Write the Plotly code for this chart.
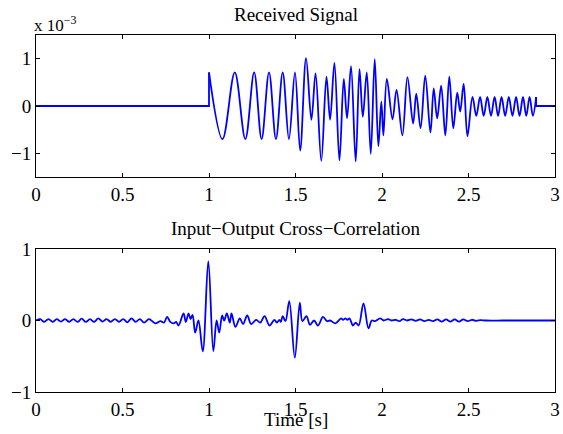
import plotly.graph_objects as go

# ---------------- data ----------------
# Received signal (units of 1e-3): flat part, oscillating part (extrema), tail
recv_flat_t = [0.0, 1.0, 1.0]
recv_flat_v = [0.0, 0.0, 0.71]

recv_t = [1.000, 1.078, 1.149, 1.210, 1.261, 1.304, 1.347, 1.387, 1.426, 1.462,
          1.497, 1.527, 1.561, 1.592, 1.616, 1.649, 1.679, 1.700, 1.725, 1.754,
          1.779, 1.798, 1.821, 1.848, 1.870, 1.889, 1.912, 1.935, 1.958, 1.979,
          1.996, 2.008, 2.028, 2.061, 2.084, 2.118, 2.147, 2.180, 2.198, 2.223,
          2.250, 2.280, 2.299, 2.319, 2.342, 2.366, 2.389, 2.412, 2.435, 2.452,
          2.472, 2.494, 2.523, 2.545, 2.567, 2.588, 2.609, 2.630, 2.651, 2.671,
          2.691, 2.712, 2.733, 2.754, 2.775, 2.795, 2.815, 2.834, 2.853, 2.872,
          2.891]
recv_v = [0.71, -0.70, 0.71, -0.70, 0.71, -0.70, 0.71, -0.70, 0.71, -0.70,
          0.71, -0.94, 1.01, -0.29, 0.69, -1.16, 0.62, -0.29, 0.91, -1.15,
          0.57, -0.26, 0.84, -1.17, 0.78, -0.23, 0.71, -1.01, 0.99, -0.85,
          0.09, -0.62, 0.57, -0.28, 0.34, -0.62, 0.61, -0.37, 0.26, -0.47,
          0.64, -0.56, 0.37, -0.26, 0.43, -0.62, 0.62, -0.47, 0.28, -0.12,
          0.47, -0.64, 0.19, -0.21, 0.19, -0.21, 0.19, -0.21, 0.19, -0.21,
          0.19, -0.21, 0.19, -0.21, 0.19, -0.21, 0.19, -0.21, 0.19, -0.21,
          0.19]

recv_tail_t = [2.891, 2.891, 3.0]
recv_tail_v = [0.19, 0.0, 0.0]

# Input-output cross-correlation
xc_t = [0.000, 0.024, 0.048, 0.072, 0.096, 0.120, 0.144, 0.168, 0.192, 0.216,
        0.240, 0.264, 0.288, 0.312, 0.336, 0.360, 0.384, 0.408, 0.432, 0.456,
        0.480, 0.504, 0.528, 0.552, 0.576, 0.600, 0.624, 0.653, 0.672, 0.691,
        0.720, 0.740, 0.758, 0.776, 0.796, 0.810, 0.824, 0.853, 0.866, 0.882,
        0.893, 0.905, 0.920, 0.939, 0.964, 0.996, 1.025, 1.044, 1.059, 1.076,
        1.088, 1.103, 1.120, 1.130, 1.153, 1.178, 1.197, 1.221, 1.244, 1.273,
        1.296, 1.321, 1.350, 1.378, 1.392, 1.407, 1.415, 1.426, 1.442, 1.464,
        1.496, 1.525, 1.540, 1.563, 1.584, 1.607, 1.630, 1.659, 1.682, 1.700,
        1.731, 1.763, 1.775, 1.788, 1.800, 1.812, 1.832, 1.848, 1.865, 1.893,
        1.922, 1.941, 1.960, 1.989, 2.010, 2.035, 2.055, 2.080, 2.100, 2.122,
        2.145, 2.170, 2.195, 2.220, 2.245, 2.270, 2.295, 2.320, 2.345, 2.370,
        2.395, 2.420, 2.445, 2.470, 2.495, 2.520, 2.545, 2.570, 2.600, 2.700,
        2.800, 3.000]
xc_v = [0.00, 0.02, -0.02, 0.02, -0.02, 0.02, -0.015, 0.02, -0.02, 0.02,
        -0.02, 0.025, -0.02, 0.02, -0.02, 0.03, -0.015, 0.02, -0.02, 0.02,
        -0.02, 0.02, -0.025, 0.03, -0.02, 0.02, -0.03, 0.02, -0.01, -0.04,
        -0.01, -0.03, 0.05, -0.02, -0.04, -0.02, -0.07, 0.10, -0.02, 0.10,
        0.02, 0.08, -0.17, 0.00, -0.43, 0.83, -0.43, 0.00, -0.17, 0.07,
        0.00, 0.10, -0.03, 0.10, -0.09, 0.03, -0.05, 0.07, -0.05, 0.01,
        -0.03, 0.06, -0.07, 0.01, -0.03, 0.01, -0.02, 0.06, -0.01, 0.27,
        -0.52, 0.25, -0.01, 0.06, -0.06, 0.00, -0.07, 0.05, -0.01, 0.00,
        -0.04, 0.03, 0.01, 0.03, 0.01, 0.03, -0.07, -0.03, -0.07, 0.24,
        -0.11, 0.00, -0.01, 0.03, 0.00, 0.02, 0.00, 0.01, -0.01, 0.02,
        0.00, 0.015, -0.005, 0.015, -0.01, 0.01, -0.01, 0.015, -0.015, 0.015,
        -0.015, 0.015, -0.015, 0.015, -0.01, 0.01, -0.005, 0.005, 0.00, 0.00,
        0.00, 0.00]

x_ticks = [0, 0.5, 1, 1.5, 2, 2.5, 3]
x_ticktext = ["0", "0.5", "1", "1.5", "2", "2.5", "3"]
y_ticks = [-1, 0, 1]

title_top = "Received Signal"
title_bottom = "Input\u2212Output Cross\u2212Correlation"
xlabel = "Time [s]"

# ---------------- figure ----------------
BLUE = "#0000ff"
FONT = "Times New Roman, Liberation Serif, serif"
lw = 1.8
FS = 19

fig = go.Figure()
for tx, vy, shape in [(recv_flat_t, recv_flat_v, "linear"),
                      (recv_t, recv_v, "spline"),
                      (recv_tail_t, recv_tail_v, "linear")]:
    fig.add_trace(go.Scatter(x=tx, y=vy, mode="lines", xaxis="x", yaxis="y",
                             line=dict(color=BLUE, width=lw, shape=shape),
                             showlegend=False, hoverinfo="skip"))
fig.add_trace(go.Scatter(x=xc_t, y=xc_v, mode="lines", xaxis="x2", yaxis="y2",
                         line=dict(color=BLUE, width=lw, shape="spline"),
                         showlegend=False, hoverinfo="skip"))

axis_common = dict(showline=True, linecolor="black", linewidth=1, mirror="ticks",
                   ticks="inside", ticklen=4, tickcolor="black", showgrid=False,
                   zeroline=False, ticklabeloverflow="allow",
                   tickfont=dict(family=FONT, size=FS, color="black"))

fig.update_layout(
    width=563, height=434,
    margin=dict(l=36, r=3, t=35, b=42),
    plot_bgcolor="white", paper_bgcolor="white",
    font=dict(family=FONT, size=FS, color="black"),
    xaxis=dict(domain=[0, 1], range=[0, 3], anchor="y", tickvals=x_ticks,
               ticktext=x_ticktext, **axis_common),
    yaxis=dict(domain=[0.6022, 1.0], range=[-1.5, 1.5], anchor="x",
               tickvals=y_ticks, **axis_common),
    xaxis2=dict(domain=[0, 1], range=[0, 3], anchor="y2", tickvals=x_ticks,
                ticktext=x_ticktext, **axis_common),
    yaxis2=dict(domain=[0, 0.4006], range=[-1, 1], anchor="x2",
                tickvals=y_ticks, **axis_common),
    annotations=[
        dict(text=title_top, x=0.5, y=1.0, xref="paper", yref="paper",
             xanchor="center", yanchor="bottom", yshift=8, showarrow=False,
             font=dict(family=FONT, size=FS)),
        dict(text=title_bottom, x=0.5, y=0.4006, xref="paper", yref="paper",
             xanchor="center", yanchor="bottom", yshift=8, showarrow=False,
             font=dict(family=FONT, size=FS)),
        dict(text=xlabel, x=0.5, y=0, xref="paper", yref="paper",
             xanchor="center", yanchor="top", yshift=-15, showarrow=False,
             font=dict(family=FONT, size=FS)),
        dict(text="x 10<sup>\u22123</sup>", x=0, y=1.0, xref="paper", yref="paper",
             xanchor="left", yanchor="bottom", xshift=-4, yshift=-2, showarrow=False,
             font=dict(family=FONT, size=17)),
    ],
)

fig.write_html("out.html")
